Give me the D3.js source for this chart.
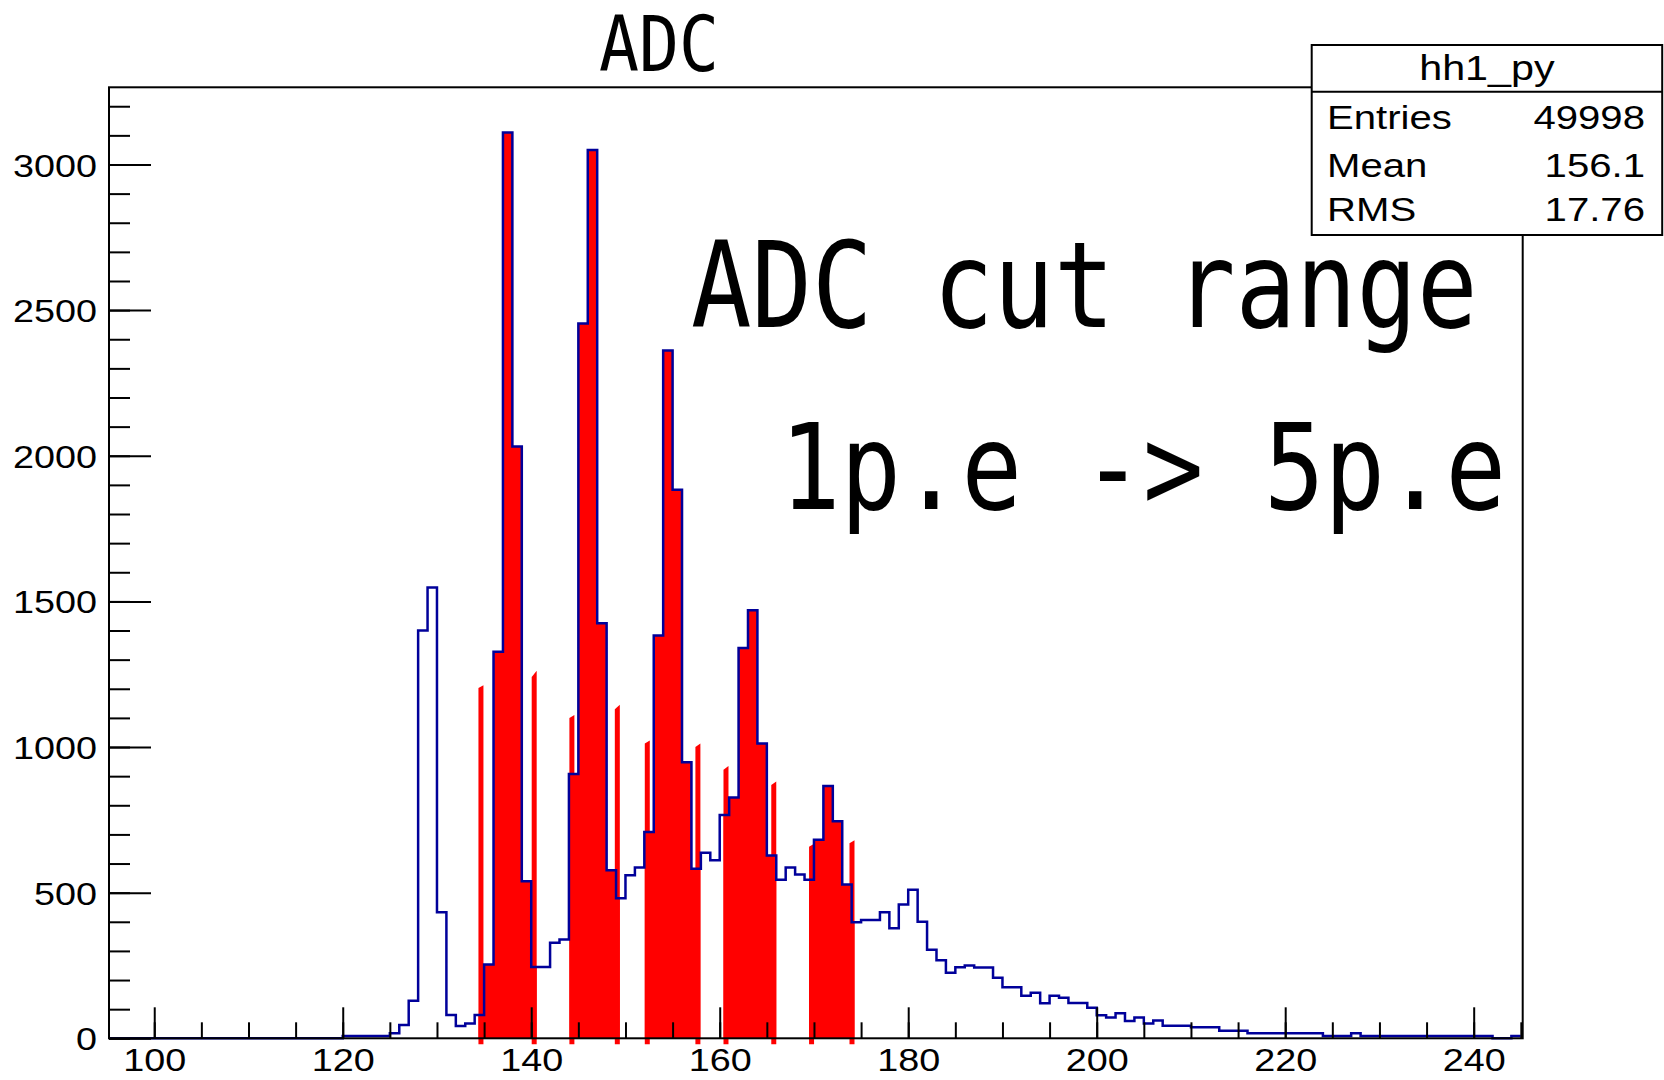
<!DOCTYPE html>
<html>
<head>
<meta charset="utf-8">
<script src="https://cdn.jsdelivr.net/npm/d3@7"></script>
<style>
  html, body { margin: 0; padding: 0; background: #ffffff; }
  svg { display: block; }
</style>
</head>
<body>
<svg id="chart" width="1664" height="1080"></svg>
<script>
// ---------------------------------------------------------------
// ADC spectrum: unit-width bins, first bin starts at ADC = 95
// ---------------------------------------------------------------
const binLow = 95;
const adcCounts = [
  // 95-119
  0, 0, 0, 0, 0, 0, 0, 0, 0, 0, 0, 0, 0, 0, 0, 0, 0, 0, 0, 0, 0, 0, 0, 0, 0,
  // 120-129
  8, 8, 8, 8, 8, 17, 46, 129, 1400, 1548,
  // 130-139
  433, 80, 42, 51, 80, 253, 1327, 3110, 2032, 539,
  // 140-149
  245, 245, 328, 339, 907, 2454, 3050, 1425, 577, 481,
  // 150-159
  560, 586, 708, 1383, 2361, 1883, 948, 582, 637, 611,
  // 160-169
  767, 827, 1340, 1470, 1012, 628, 544, 586, 562, 544,
  // 170-179
  682, 866, 745, 528, 398, 406, 406, 433, 378, 459,
  // 180-189
  510, 400, 304, 268, 225, 244, 250, 243, 243, 208,
  // 190-199
  175, 175, 146, 156, 120, 146, 139, 121, 121, 105,
  // 200-209
  79, 71, 86, 59, 71, 51, 61, 43, 43, 43,
  // 210-219
  38, 38, 38, 26, 26, 26, 17, 17, 17, 17,
  // 220-229
  17, 17, 17, 17, 8, 8, 8, 17, 8, 8,
  // 230-239
  8, 8, 8, 8, 8, 8, 8, 8, 8, 8,
  // 240-244
  8, 8, 0, 0, 8
];

// ADC cut windows (1 p.e. ... 5 p.e.)
const cutLow  = [134.4, 144.05, 152.05, 160.4, 169.48];
const cutHigh = [140.58, 149.4, 157.95, 166.0, 174.3];
// heights of the fill edges at each window boundary [left corner, right corner]
const cutLowEdgeTop  = [[1203, 1212], [1100, 1110], [1012, 1022], [922, 935], [658, 668]];
const cutHighEdgeTop = [[1240, 1262], [1130, 1145], [1000, 1012], [870, 882], [670, 680]];

// axis ticks
const xMajorTicks = [100, 120, 140, 160, 180, 200, 220, 240];
const yMajorTicks = [0, 500, 1000, 1500, 2000, 2500, 3000];

// texts
const chartTitle = "ADC";
const noteLines = ["ADC cut range", "1p.e -> 5p.e"];
const statsTitle = "hh1_py";
const statsNames = ["Entries", "Mean", "RMS"];
const statsValues = ["49998", "156.1", "17.76"];

// ---------------------------------------------------------------
// layout
// ---------------------------------------------------------------
const frame = { left: 109, right: 1522.7, top: 87.3, bottom: 1038.3 };
const sansFont = "'Liberation Sans', Arial, Helvetica, sans-serif";
const monoFont = "'DejaVu Sans Mono', 'Liberation Mono', monospace";
const sansStretch = 1.18;
const histBlue = "#00009a";
const fillRed = "#ff0000";

const svg = d3.select("#chart");
svg.append("rect").attr("width", 1664).attr("height", 1080).attr("fill", "#ffffff");

const x = d3.scaleLinear().domain([95.2, 245.2]).range([frame.left, frame.right]).clamp(true);
const y = d3.scaleLinear().domain([0, 3265]).range([frame.bottom, frame.top]);

const countAt = b => adcCounts[b - binLow] || 0;

// widen sans text horizontally by a fixed factor
function stretch(sel, factor) {
  sel.each(function () {
    const w = this.getComputedTextLength();
    this.setAttribute("textLength", (w * factor).toFixed(2));
    this.setAttribute("lengthAdjust", "spacingAndGlyphs");
  });
}

// ---------------------------------------------------------------
// red cut windows: area under the spectrum plus edge strips
// ---------------------------------------------------------------
const polyLine = d3.line().x(d => x(d[0])).y(d => y(d[1]));
const gFill = svg.append("g").attr("class", "cut-fill");
const edgeWidth = 0.53;
const edgeFloor = -20;

cutLow.forEach((lo, i) => {
  const hi = cutHigh[i];
  const pts = [[lo, 0]];
  const b0 = Math.floor(lo);
  pts.push([lo, countAt(b0)]);
  for (let e = b0 + 1; e < hi; e++) {
    pts.push([e, countAt(e - 1)]);
    pts.push([e, countAt(e)]);
  }
  pts.push([hi, countAt(Math.floor(hi - 1e-9))]);
  pts.push([hi, 0]);
  gFill.append("path")
    .attr("d", polyLine(pts) + "Z")
    .attr("fill", fillRed)
    .attr("stroke", "none");

  const [l0, l1] = cutLowEdgeTop[i];
  gFill.append("path")
    .attr("d", polyLine([[lo, edgeFloor], [lo, l0], [lo + edgeWidth, l1], [lo + edgeWidth, edgeFloor]]) + "Z")
    .attr("fill", fillRed);
  const [h0, h1] = cutHighEdgeTop[i];
  gFill.append("path")
    .attr("d", polyLine([[hi - edgeWidth, edgeFloor], [hi - edgeWidth, h0], [hi, h1], [hi, edgeFloor]]) + "Z")
    .attr("fill", fillRed);
});

// ---------------------------------------------------------------
// blue histogram outline
// ---------------------------------------------------------------
const histPts = adcCounts.map((c, i) => [binLow + i, c]);
histPts.push([binLow + adcCounts.length, adcCounts[adcCounts.length - 1]]);
svg.append("path")
  .attr("d", d3.line().x(d => x(d[0])).y(d => y(d[1])).curve(d3.curveStepAfter)(histPts))
  .attr("fill", "none")
  .attr("stroke", histBlue)
  .attr("stroke-width", 2.5)
  .attr("stroke-linejoin", "miter");

// ---------------------------------------------------------------
// frame and axes (ticks point inward)
// ---------------------------------------------------------------
const xMinorTicks = d3.range(100, 245.01, 5);
const yMinorTicks = d3.range(0, 3265, 100);

const gxMinor = svg.append("g").attr("transform", `translate(0,${frame.bottom})`)
  .call(d3.axisBottom(x).tickValues(xMinorTicks).tickSize(-16).tickFormat(""));
const gxMajor = svg.append("g").attr("transform", `translate(0,${frame.bottom})`)
  .call(d3.axisBottom(x).tickValues(xMajorTicks).tickSize(-31).tickPadding(10).tickFormat(d3.format("d")));
const gyMinor = svg.append("g").attr("transform", `translate(${frame.left},0)`)
  .call(d3.axisLeft(y).tickValues(yMinorTicks).tickSize(-21).tickFormat(""));
const gyMajor = svg.append("g").attr("transform", `translate(${frame.left},0)`)
  .call(d3.axisLeft(y).tickValues(yMajorTicks).tickSize(-42).tickPadding(12).tickFormat(d3.format("d")));

[gxMinor, gxMajor, gyMinor, gyMajor].forEach(g => {
  g.select(".domain").remove();
  g.selectAll(".tick line").attr("stroke", "#000").attr("stroke-width", 2);
  g.selectAll(".tick text")
    .attr("fill", "#000")
    .style("font-family", sansFont)
    .style("font-size", "32px");
});
gyMajor.selectAll(".tick text").attr("dy", "0.36em");
stretch(gxMajor.selectAll(".tick text"), sansStretch);
stretch(gyMajor.selectAll(".tick text"), sansStretch);

svg.append("rect")
  .attr("x", frame.left).attr("y", frame.top)
  .attr("width", frame.right - frame.left).attr("height", frame.bottom - frame.top)
  .attr("fill", "none").attr("stroke", "#000").attr("stroke-width", 2);

// ---------------------------------------------------------------
// title and annotation
// ---------------------------------------------------------------
svg.append("text")
  .attr("x", 659).attr("y", 71)
  .attr("text-anchor", "middle")
  .attr("textLength", 120).attr("lengthAdjust", "spacingAndGlyphs")
  .style("font-family", monoFont).style("font-size", "76px")
  .attr("fill", "#000")
  .text(chartTitle);

const noteX = [691, 780];
const noteY = [327, 509];
noteLines.forEach((s, i) => {
  svg.append("text")
    .attr("x", noteX[i]).attr("y", noteY[i])
    .attr("textLength", s.length * 60.5).attr("lengthAdjust", "spacingAndGlyphs")
    .style("font-family", monoFont).style("font-size", "120px")
    .attr("fill", "#000")
    .text(s);
});

// ---------------------------------------------------------------
// statistics box
// ---------------------------------------------------------------
const box = { left: 1311.7, right: 1662.2, top: 45, bottom: 235, split: 91.7 };
const gStats = svg.append("g").attr("class", "stats");
gStats.append("rect")
  .attr("x", box.left).attr("y", box.top)
  .attr("width", box.right - box.left).attr("height", box.bottom - box.top)
  .attr("fill", "#fff").attr("stroke", "#000").attr("stroke-width", 2);
gStats.append("line")
  .attr("x1", box.left).attr("x2", box.right)
  .attr("y1", box.split).attr("y2", box.split)
  .attr("stroke", "#000").attr("stroke-width", 2);

const statsTitleText = gStats.append("text")
  .attr("x", (box.left + box.right) / 2).attr("y", 80)
  .attr("text-anchor", "middle")
  .style("font-family", sansFont).style("font-size", "35px")
  .attr("fill", "#000")
  .text(statsTitle);
stretch(statsTitleText, sansStretch);

const rowBaseline = [129, 176.5, 221];
statsNames.forEach((name, i) => {
  const t1 = gStats.append("text")
    .attr("x", 1327).attr("y", rowBaseline[i])
    .style("font-family", sansFont).style("font-size", "34px")
    .attr("fill", "#000")
    .text(name);
  stretch(t1, sansStretch);
  const t2 = gStats.append("text")
    .attr("x", 1645).attr("y", rowBaseline[i])
    .attr("text-anchor", "end")
    .style("font-family", sansFont).style("font-size", "34px")
    .attr("fill", "#000")
    .text(statsValues[i]);
  stretch(t2, sansStretch);
});
</script>
</body>
</html>
